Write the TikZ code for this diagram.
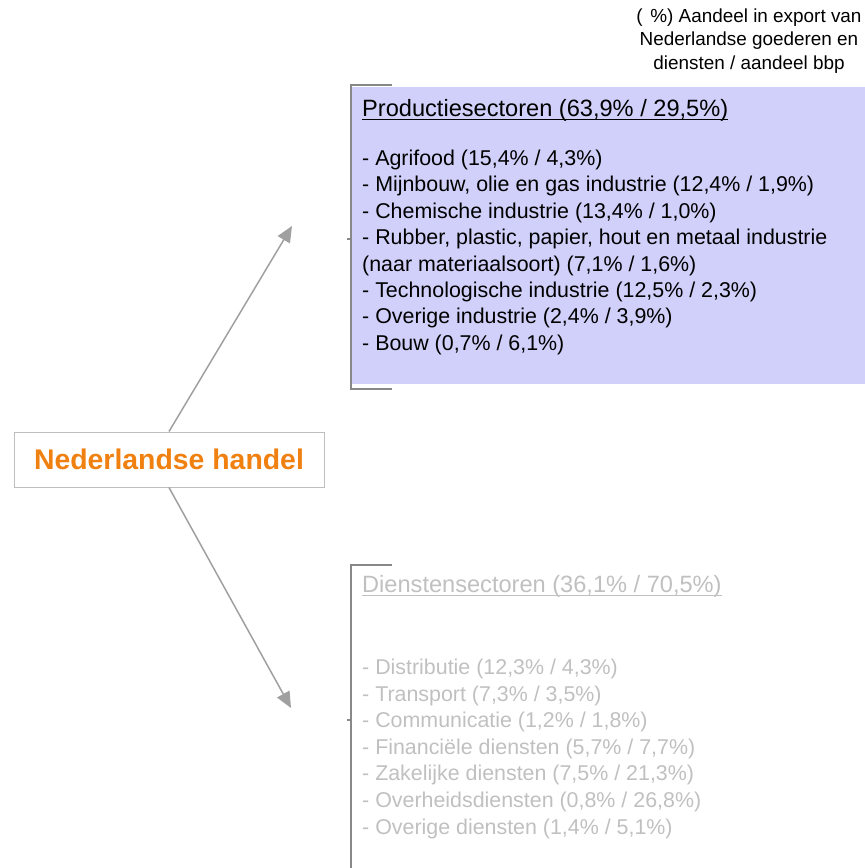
\documentclass[tikz,border=0pt]{standalone}
\usepackage{fontspec}
\setmainfont{Liberation Sans}
\usetikzlibrary{positioning,arrows.meta}
\definecolor{handelorange}{RGB}{240,128,16}
\definecolor{prodfill}{RGB}{208,208,250}
\definecolor{dienstgray}{RGB}{192,192,192}
\definecolor{bracketgray}{RGB}{136,136,136}
\definecolor{arrowgray}{RGB}{160,160,160}
\definecolor{boxgray}{RGB}{190,190,190}

\begin{document}
\begin{tikzpicture}[x=1pt, y=-1pt,
  itemtxt/.style={anchor=west, inner sep=0pt, font=\fontsize{21.4}{25}\selectfont},
  headtxt/.style={anchor=west, inner sep=0pt, font=\fontsize{23.6}{28}\selectfont},
  bracket/.style={bracketgray, line width=1.2pt},
  flowarrow/.style={arrowgray, line width=1.5pt, -{Triangle[length=16pt, width=14pt]}}]
  \useasboundingbox (0,0) rectangle (865,868);

  % Legend (top right)
  \node[align=center, inner sep=0pt, font=\fontsize{18.9}{23.5}\selectfont] (legenda) at (749,41)
    {(\hspace{0.4em}\%) Aandeel in export van\\Nederlandse goederen en\\diensten / aandeel bbp};

  % Productiesectoren block
  \fill[prodfill] (352,87) rectangle (865,384);
  \draw[bracket] (392,85) -- (351,85) -- (351,389) -- (392,389);
  \draw[bracket] (347,239) -- (351,239);
  \node[headtxt] (prod) at (362,110) {Productiesectoren (63,9\% / 29,5\%)};
  \draw[line width=1pt] ([yshift=-3pt]prod.base west) -- ([yshift=-3pt]prod.base east);
  \foreach \txt [count=\i] in {
    {- Agrifood (15,4\% / 4,3\%)},
    {- Mijnbouw, olie en gas industrie (12,4\% / 1,9\%)},
    {- Chemische industrie (13,4\% / 1,0\%)},
    {- Rubber, plastic, papier, hout en metaal industrie},
    {(naar materiaalsoort) (7,1\% / 1,6\%)},
    {- Technologische industrie (12,5\% / 2,3\%)},
    {- Overige industrie (2,4\% / 3,9\%)},
    {- Bouw (0,7\% / 6,1\%)}}{
    \node[itemtxt] (prod\i) at (362,{160+26.4*(\i-1)}) {\txt};
  }

  % Dienstensectoren block
  \draw[bracket] (392,565) -- (351,565) -- (351,870);
  \draw[bracket] (347,720) -- (351,720);
  \node[headtxt, text=dienstgray] (dienst) at (362,586) {Dienstensectoren (36,1\% / 70,5\%)};
  \draw[dienstgray, line width=1pt] ([yshift=-3pt]dienst.base west) -- ([yshift=-3pt]dienst.base east);
  \foreach \txt [count=\i] in {
    {- Distributie (12,3\% / 4,3\%)},
    {- Transport (7,3\% / 3,5\%)},
    {- Communicatie (1,2\% / 1,8\%)},
    {- Financiële diensten (5,7\% / 7,7\%)},
    {- Zakelijke diensten (7,5\% / 21,3\%)},
    {- Overheidsdiensten (0,8\% / 26,8\%)},
    {- Overige diensten (1,4\% / 5,1\%)}}{
    \node[itemtxt, text=dienstgray] (dienst\i) at (362,{669+26.6*(\i-1)}) {\txt};
  }

  % Central node and arrows
  \node[draw=boxgray, line width=1pt, minimum width=310pt, minimum height=55pt, inner sep=0pt,
        text=handelorange, font=\bfseries\fontsize{28.4}{32}\selectfont] (handel) at (169,459.5) {Nederlandse handel};
  \coordinate (prodtip) at (292,226);
  \coordinate (diensttip) at (291,708);
  \draw[flowarrow] (handel.north) -- (prodtip);
  \draw[flowarrow] (handel.south) -- (diensttip);
\end{tikzpicture}
\end{document}
